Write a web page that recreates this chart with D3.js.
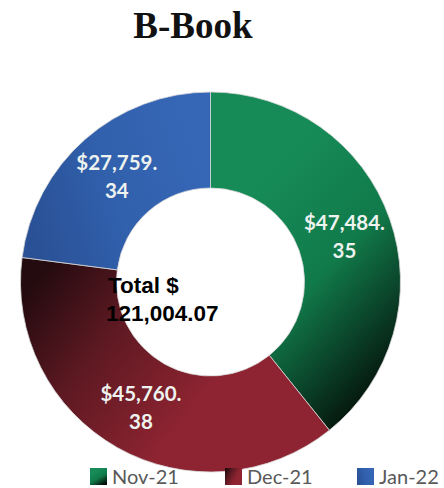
<!DOCTYPE html>
<html>
<head>
<meta charset="utf-8">
<script src="https://cdn.jsdelivr.net/npm/d3@7"></script>
<style>
  body { margin: 0; background: #fff; }
  svg { display: block; }
</style>
</head>
<body>
<svg id="chart" width="444" height="488"></svg>
<script>
// data
var title = "B-Book";
var months = ["Nov-21", "Dec-21", "Jan-22"];
var amounts = [47484.35, 45760.38, 27759.34];

// gradient stops per slice: [start, mid, end]
var fills = [
  ["#168b57", "#117a4a", "#040d08"],
  ["#240b0f", "#5e1922", "#8e2431"],
  ["#2a5196", "#3160ac", "#3667b7"]
];

var width = 444, height = 488;
var cx = 210.5, cy = 282;
var outerR = 190, innerR = 94;

var svg = d3.select("#chart");
var defs = svg.append("defs");

// gradient directions, roughly as in the original
var dirs = [
  {x1: 0.3, y1: 0.25, x2: 0.75, y2: 1},
  {x1: 0, y1: 0.2, x2: 0.65, y2: 0.55},
  {x1: 0, y1: 0.6, x2: 1, y2: 0.3}
];

fills.forEach(function(f, i) {
  var g = defs.append("linearGradient")
    .attr("id", "grad" + i)
    .attr("x1", dirs[i].x1).attr("y1", dirs[i].y1)
    .attr("x2", dirs[i].x2).attr("y2", dirs[i].y2);
  g.append("stop").attr("offset", "0").attr("stop-color", f[0]);
  g.append("stop").attr("offset", "0.45").attr("stop-color", f[1]);
  g.append("stop").attr("offset", "1").attr("stop-color", f[2]);
});

svg.append("text")
  .attr("x", 193)
  .attr("y", 38)
  .attr("text-anchor", "middle")
  .style("font-family", "'Liberation Serif', serif")
  .style("font-weight", "bold")
  .style("font-size", "37px")
  .attr("fill", "#111")
  .text(title);

var pie = d3.pie().sort(null).value(function(d) { return d; });
var arc = d3.arc().innerRadius(innerR).outerRadius(outerR);

var slices = svg.append("g")
  .attr("transform", "translate(" + cx + "," + cy + ")");

var arcs = pie(amounts);

slices.selectAll("path")
  .data(arcs)
  .enter()
    .append("path")
    .attr("d", arc)
    .attr("fill", function(d, i) { return "url(#grad" + i + ")"; })
    .attr("stroke", "#d8d8d8")
    .attr("stroke-width", 0.8);

var money = d3.format(",.2f");

// value labels, split after the decimal point like the original wraps them
var lab = slices.selectAll("text.val")
  .data(arcs)
  .enter()
    .append("text")
    .attr("class", "val")
    .attr("text-anchor", "middle")
    .attr("transform", function(d) {
      var c = arc.centroid(d);
      return "translate(" + c[0] + "," + c[1] + ")";
    })
    .style("font-family", "Lato, sans-serif")
    .style("font-weight", "bold")
    .style("font-size", "20.5px")
    .attr("fill", "#eef3f0");

lab.each(function(d) {
  var s = "$" + money(d.value);
  var p = s.indexOf(".");
  var t = d3.select(this);
  t.append("tspan").attr("x", 0).attr("y", -5).text(s.slice(0, p + 1));
  t.append("tspan").attr("x", 0).attr("y", 23).text(s.slice(p + 1));
});

// total in the hole
var total = d3.sum(amounts);
var tot = svg.append("text")
  .style("font-family", "'Liberation Sans', Arial, sans-serif")
  .style("font-weight", "bold")
  .style("font-size", "22.5px")
  .attr("fill", "#000");
tot.append("tspan").attr("x", 108).attr("y", 293).text("Total $");
tot.append("tspan").attr("x", 106).attr("y", 321).text(money(total));

// legend
var legX = d3.scaleOrdinal().domain(months).range([90, 225, 357]);

var leg = svg.selectAll("g.leg")
  .data(months)
  .enter()
    .append("g")
    .attr("class", "leg")
    .attr("transform", function(d) { return "translate(" + legX(d) + ",468)"; });

leg.append("rect")
  .attr("width", 17)
  .attr("height", 17)
  .attr("fill", function(d, i) { return "url(#grad" + i + ")"; });

leg.append("text")
  .attr("x", 22)
  .attr("y", 16)
  .style("font-family", "Lato, sans-serif")
  .style("font-size", "20px")
  .attr("fill", "#595959")
  .text(function(d) { return d; });
</script>
</body>
</html>
